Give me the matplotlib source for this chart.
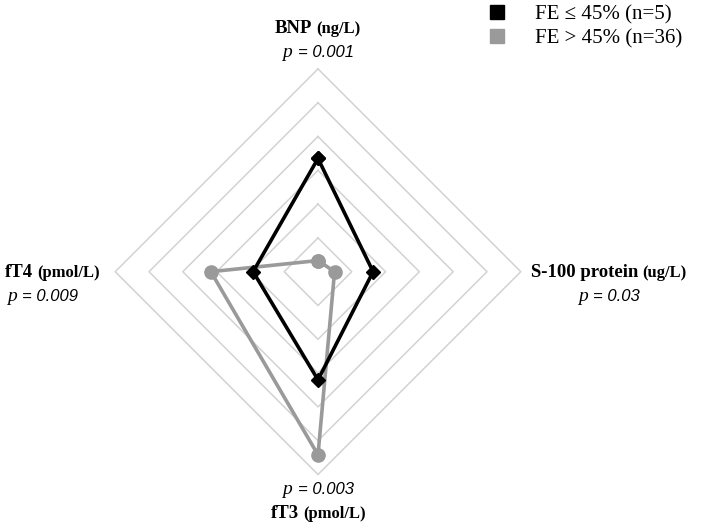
import numpy as np
import matplotlib.pyplot as plt
from matplotlib.lines import Line2D
from matplotlib.offsetbox import TextArea, HPacker, VPacker, AnnotationBbox

categories = ['BNP', 'S-100 protein', 'fT3', 'fT4']
units = ['(ng/L)', '(ug/L)', '(pmol/L)', '(pmol/L)']
p_values = ['0.001', '0.03', '0.003', '0.009']
fe_low = [3.35, 1.63, 3.2, 1.92]     # FE <= 45% (n=5)
fe_high = [0.33, 0.49, 5.42, 3.17]   # FE > 45% (n=36)
n_rings = 6

angles = np.pi / 2 - np.arange(len(categories)) * np.pi / 2  # clockwise from top


def to_xy(vals):
    vals = np.append(vals, vals[0])
    a = np.append(angles, angles[0])
    return vals * np.cos(a), vals * np.sin(a)


fig = plt.figure(figsize=(7.01, 5.30), dpi=100)
ax = fig.add_axes([0, 0, 1, 1])
scale = 33.8
ax.set_xlim(-318 / scale, (701 - 318) / scale)
ax.set_ylim(-258.3 / scale, (530 - 258.3) / scale)
ax.axis('off')

# diamond grid
for r in range(1, n_rings + 1):
    gx, gy = to_xy(np.full(len(categories), r))
    ax.plot(gx, gy, color='#d2d2d2', lw=1.1, zorder=1)

gray = '#9a9a9a'
x1, y1 = to_xy(fe_low)
ax.plot(x1, y1, color='black', lw=2.6, marker='D', markersize=7.5, zorder=3)
x2, y2 = to_xy(fe_high)
ax.plot(x2, y2, color=gray, lw=2.6, marker='o', markersize=9.5, zorder=2)

# axis labels
label_pos = [(0, 6.83, 'center'), (8.6, -0.39, 'center'),
             (0, -6.81, 'center'), (-7.85, -0.39, 'left')]
for i, (cat, unit, pv) in enumerate(zip(categories, units, p_values)):
    title = HPacker(children=[
        TextArea(cat, textprops=dict(family='Liberation Serif', weight='bold', size=13.5)),
        TextArea(unit, textprops=dict(family='Liberation Serif', weight='bold', size=12)),
    ], align='baseline', pad=0, sep=3)
    pline = HPacker(children=[
        TextArea('p', textprops=dict(family='Liberation Serif', style='italic', size=14)),
        TextArea('= ' + pv, textprops=dict(family='Liberation Sans', style='italic', size=12)),
    ], align='baseline', pad=0, sep=4)
    x, y, al = label_pos[i]
    if i == 2:
        rows = [pline, title]
    else:
        rows = [title, pline]
    if al == 'left':
        pline = HPacker(children=[TextArea(' ', textprops=dict(size=4)), pline], pad=0, sep=0)
        rows = [title, pline]
    box = VPacker(children=rows, align=al, pad=0, sep=5)
    ab = AnnotationBbox(box, (x, y), xycoords='data', frameon=False, box_alignment=(0.5, 0.5))
    ax.add_artist(ab)

handles = [Line2D([], [], marker='s', ls='', color='black', markersize=10.5),
           Line2D([], [], marker='s', ls='', color=gray, markersize=10.5)]
ax.legend(handles, ['FE ≤ 45% (n=5)', 'FE > 45% (n=36)'],
          loc='upper left', bbox_to_anchor=(482 / 701, 1.0 - 3 / 530), frameon=False,
          prop=dict(family='Liberation Serif', size=15), handletextpad=1.25,
          labelspacing=0.2, borderaxespad=0.0, handlelength=1.2, borderpad=0.1)

fig.savefig('out.png', dpi=100)
